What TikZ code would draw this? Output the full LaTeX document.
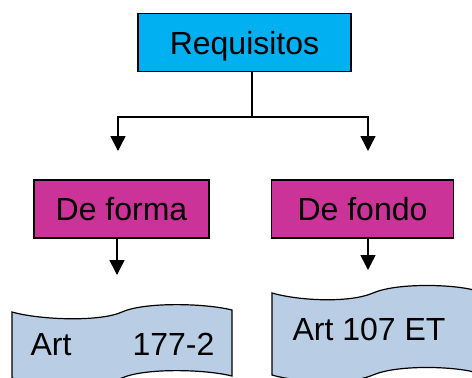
\documentclass[tikz,border=0pt]{standalone}
\usepackage{fontspec}
\setmainfont{Liberation Sans}
\usetikzlibrary{arrows.meta}
\usetikzlibrary{positioning}
\definecolor{reqblue}{HTML}{00B0F0}
\definecolor{submag}{HTML}{CC3399}
\definecolor{tapeblue}{HTML}{B9CDE5}

\begin{document}
\begin{tikzpicture}
  [x=1pt, y=-1pt,
   every node/.style={font=\fontsize{32}{38}\selectfont},
   box/.style={draw, line width=1.5pt, minimum height=58pt,
     text height=23pt, text depth=0pt, inner sep=0pt},
   reqbox/.style={box, fill=reqblue, minimum width=213pt},
   subbox/.style={box, fill=submag},
   tapeshape/.style={draw, line width=1.2pt, fill=tapeblue},
   link/.style={draw, line width=1.5pt},
   arr/.style={link, -{Triangle[length=15pt, width=15pt]}},
  ]
  \useasboundingbox (0,0) rectangle (472,378);
  \node[reqbox] (req) at (244.5,42.5) {Requisitos};
  \node[subbox, minimum width=175pt] (forma) at (121.5,209) {De forma};
  \node[subbox, minimum width=182pt, right=61pt of forma] (fondo) {De fondo};
  % tapes
  \draw[tapeshape] (12,312) .. controls (40,320) and (100,322) .. (122,312)
    .. controls (144,302) and (204,303) .. (232,310)
    -- (232,376) .. controls (204,369) and (144,368) .. (122,378)
    .. controls (100,388) and (40,386) .. (12,378) -- cycle;
  \draw[tapeshape] (272,293) .. controls (300,301) and (350,303) .. (373,293)
    .. controls (396,283) and (450,284) .. (474,290)
    -- (474,372) .. controls (450,366) and (396,365) .. (373,375)
    .. controls (350,385) and (300,383) .. (272,375) -- cycle;
  \node[anchor=base] (art1) at (122.5,355) {Art\hspace{61pt}177-2};
  \node[anchor=base] (art2) at (369,340) {Art 107 ET};
  % connectors
  \coordinate (split) at (252,117);
  \coordinate (formatop) at (118,151);
  \coordinate (fondotop) at (368,151);
  \coordinate (formaend) at (117,275);
  \coordinate (fondoend) at (368,270);
  \draw[link] (req.south -| split) -- (split);
  \draw[arr] (split) -| (formatop);
  \draw[arr] (split) -| (fondotop);
  \draw[arr] (forma.south -| formaend) -- (formaend);
  \draw[arr] (fondo.south -| fondoend) -- (fondoend);
\end{tikzpicture}
\end{document}
